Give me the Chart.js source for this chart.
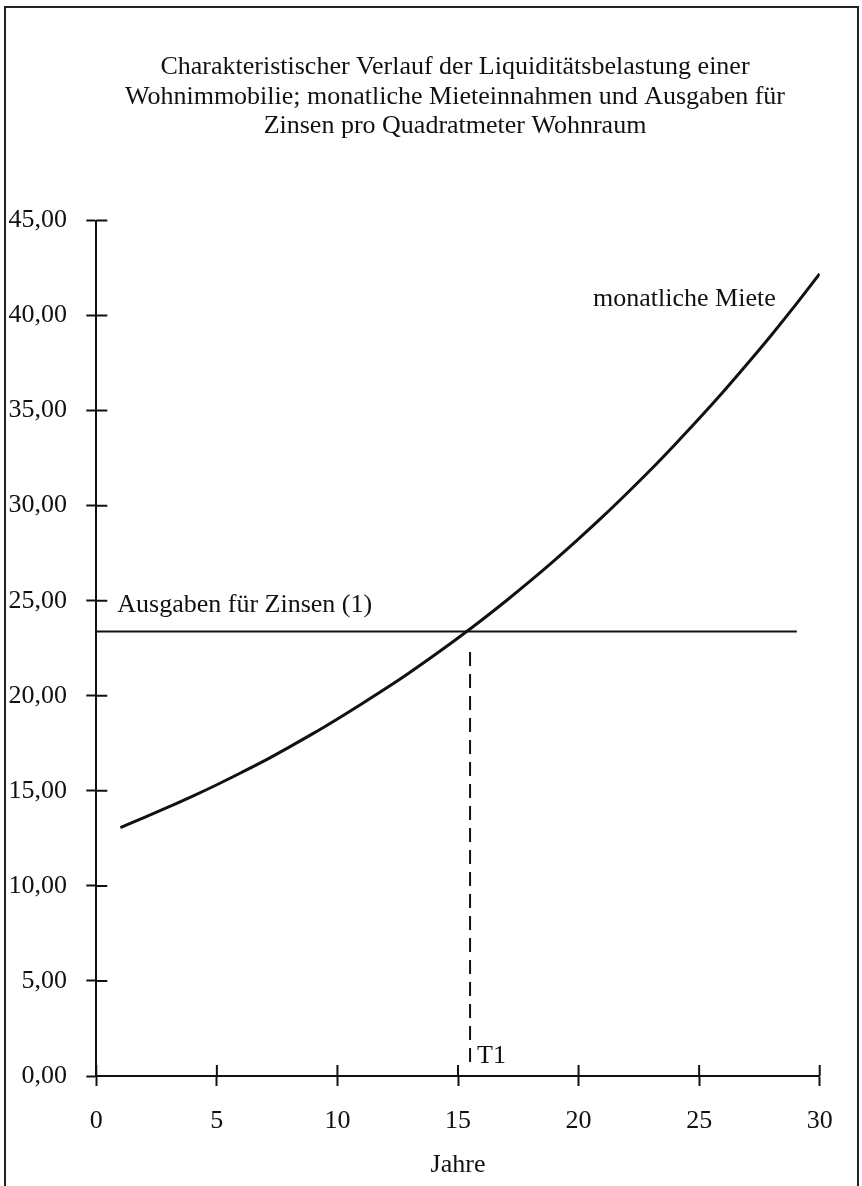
<!DOCTYPE html>
<html lang="de">
<head>
<meta charset="utf-8">
<title>Liquiditätsbelastung einer Wohnimmobilie</title>
<script src="https://cdn.jsdelivr.net/npm/chart.js@4.4.1/dist/chart.umd.min.js"></script>
<style>
    html, body { margin: 0; padding: 0; background: #fff; }
    canvas { display: block; }
</style>
</head>
<body>
<canvas id="liqChart" width="862" height="1186"></canvas>
<script>
// Werte
const jahre = [1, 2, 3, 4, 5, 6, 7, 8, 9, 10, 11, 12, 13, 14, 15,
               16, 17, 18, 19, 20, 21, 22, 23, 24, 25, 26, 27, 28, 29, 30];
const mieteWerte = [13.07, 13.6, 14.15, 14.72, 15.32, 15.95, 16.6, 17.3, 18.02, 18.78,
                    19.57, 20.38, 21.23, 22.12, 23.04, 24.0, 25.0, 26.04, 27.12, 28.25,
                    29.42, 30.64, 31.9, 33.22, 34.58, 35.99, 37.46, 38.98, 40.56, 42.2];
const zinsenX = [0, 29.05];
const zinsenY = [23.38, 23.38];
const t1X = [15.5, 15.5];
const t1Y = [22.3, 0.6];
const titelZeilen = [
    "Charakteristischer Verlauf der Liquiditätsbelastung einer",
    "Wohnimmobilie; monatliche Mieteinnahmen und Ausgaben für",
    "Zinsen pro Quadratmeter Wohnraum"
];

const ink = "#111";
const serif = "'Liberation Serif', 'Times New Roman', serif";

Chart.defaults.font.family = serif;
Chart.defaults.font.size = 26;
Chart.defaults.color = ink;

function toPoints(xs, ys) {
    return xs.map((x, i) => ({ x: x, y: ys[i] }));
}

// Rahmen, Titel, Beschriftungen und die nach innen reichenden Tick-Striche
const paperPlugin = {
    id: "paper",
    beforeDraw(chart) {
        const ctx = chart.ctx;
        ctx.save();
        ctx.fillStyle = "#fff";
        ctx.fillRect(0, 0, chart.width, chart.height);
        ctx.restore();
    },
    afterDraw(chart) {
        const { ctx, chartArea } = chart;
        const xs = chart.scales.x;
        const ys = chart.scales.y;
        ctx.save();

        // innere Hälfte der Ticks
        ctx.strokeStyle = ink;
        ctx.lineWidth = 2;
        ctx.beginPath();
        xs.ticks.forEach(t => {
            const px = xs.getPixelForValue(t.value);
            ctx.moveTo(px, chartArea.bottom);
            ctx.lineTo(px, chartArea.bottom - 11);
        });
        ys.ticks.forEach(t => {
            const py = ys.getPixelForValue(t.value);
            ctx.moveTo(chartArea.left, py);
            ctx.lineTo(chartArea.left + 11, py);
        });
        ctx.stroke();

        // Rahmen (unten offen)
        ctx.strokeStyle = "#222";
        ctx.lineWidth = 2;
        ctx.beginPath();
        ctx.moveTo(5, chart.height);
        ctx.lineTo(5, 7);
        ctx.lineTo(858, 7);
        ctx.lineTo(858, chart.height);
        ctx.stroke();

        // Titel
        ctx.fillStyle = ink;
        ctx.textBaseline = "alphabetic";
        ctx.textAlign = "center";
        ctx.font = "26px " + serif;
        const cx = (chartArea.left + chartArea.right) / 2 - 3;
        titelZeilen.forEach((z, i) => ctx.fillText(z, cx, 74 + i * 29.5));

        // Beschriftungen im Diagramm
        ctx.font = "26px " + serif;
        ctx.textAlign = "left";
        ctx.fillText("Ausgaben für Zinsen (1)",
            xs.getPixelForValue(zinsenX[0]) + 21, ys.getPixelForValue(zinsenY[0]) - 20);
        ctx.fillText("monatliche Miete",
            xs.getPixelForValue(20.6), ys.getPixelForValue(40.5));
        ctx.fillText("T1",
            xs.getPixelForValue(t1X[0]) + 7, chartArea.bottom - 13);

        ctx.restore();
    }
};

const ctx = document.getElementById("liqChart").getContext("2d");

const liqChart = new Chart(ctx, {
    type: "line",
    data: {
        datasets: [
            {
                label: "monatliche Miete",
                data: toPoints(jahre, mieteWerte),
                borderColor: ink,
                borderWidth: 3,
                pointRadius: 0,
                cubicInterpolationMode: "monotone",
                fill: false
            },
            {
                label: "Ausgaben für Zinsen (1)",
                data: toPoints(zinsenX, zinsenY),
                borderColor: ink,
                borderWidth: 2,
                pointRadius: 0,
                fill: false
            },
            {
                label: "T1",
                data: toPoints(t1X, t1Y),
                borderColor: ink,
                borderWidth: 2,
                borderDash: [14, 8],
                pointRadius: 0,
                fill: false
            }
        ]
    },
    options: {
        responsive: false,
        animation: false,
        devicePixelRatio: 1,
        layout: {
            padding: { left: 0, top: 220.5, right: 42.3, bottom: 0 }
        },
        plugins: {
            legend: { display: false },
            tooltip: { enabled: false },
            title: { display: false }
        },
        scales: {
            x: {
                type: "linear",
                position: "bottom",
                min: 0,
                max: 30,
                ticks: {
                    stepSize: 5,
                    padding: 20,
                    color: ink,
                    font: { size: 26 }
                },
                grid: {
                    drawOnChartArea: false,
                    drawTicks: true,
                    tickLength: 10,
                    tickWidth: 2,
                    tickColor: ink
                },
                border: { display: true, color: ink, width: 2 },
                title: {
                    display: true,
                    text: "Jahre",
                    color: ink,
                    font: { size: 26 },
                    padding: { top: 0, bottom: 5 }
                },
                afterFit(scale) { scale.height = 110; }
            },
            y: {
                type: "linear",
                min: 0,
                max: 45,
                ticks: {
                    stepSize: 5,
                    padding: 19.3,
                    color: ink,
                    font: { size: 26 },
                    callback: v => v.toFixed(2).replace(".", ",")
                },
                grid: {
                    drawOnChartArea: false,
                    drawTicks: true,
                    tickLength: 10,
                    tickWidth: 2,
                    tickColor: ink
                },
                border: { display: true, color: ink, width: 2 },
                afterFit(scale) { scale.width = 96.3; }
            }
        }
    },
    plugins: [paperPlugin]
});
</script>
</body>
</html>
